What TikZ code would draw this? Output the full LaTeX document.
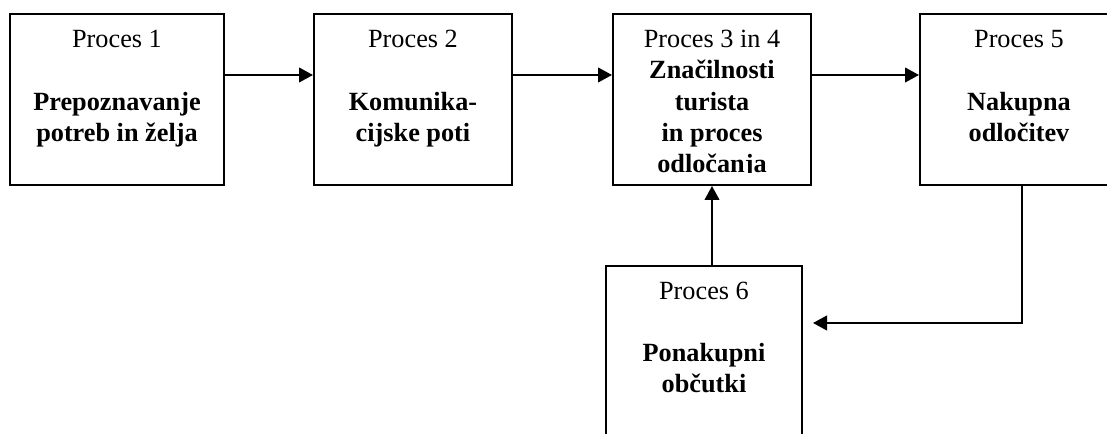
\documentclass[tikz,border=0pt]{standalone}
\usepackage{fontspec}
\setmainfont{Liberation Serif}
\usetikzlibrary{arrows.meta}
\tikzstyle{proc}=[draw,rectangle,minimum width=148.5pt,minimum height=128.25pt,inner sep=0pt]
\tikzstyle{ptitle}=[font=\fontsize{19.7}{23.3}\selectfont,anchor=base,inner sep=0pt]
\tikzstyle{pname}=[font=\fontsize{19.7}{23.3}\selectfont\bfseries,align=center,anchor=base,inner sep=0pt]% base = last line
\tikzstyle{flow}=[-{Triangle[length=10.5pt,width=11pt]}]
\begin{document}
\begin{tikzpicture}[x=0.75pt,y=0.75pt,line width=1.5pt]
	\clip (0,0) rectangle (1107,434);
%Process boxes
 %top row
	\node[proc,minimum width=160.5pt] (P1) at (117,334.5) {};
	\node[proc] (P2) at (413,334.5) {};
	\node[proc] (P34) at (712,334.5) {};
	\node[proc] (P5) at (1019,334.5) {};
 %below
	\node[proc,minimum width=147pt] (P6) at (704,82.5) {};
%Texts
	\node[ptitle] (T1) at ([yshift=-26.25pt]P1.north) {Proces 1};
	\node[pname] (N1) at ([yshift=-96.5pt]P1.north) {Prepoznavanje\\potreb in želja};
	\node[ptitle] (T2) at ([yshift=-26.25pt]P2.north) {Proces 2};
	\node[pname] (N2) at ([yshift=-96.5pt]P2.north) {Komunika-\\cijske poti};
	\node[ptitle] (T34) at ([yshift=-26.25pt]P34.north) {Proces 3 in 4};
	\begin{scope}
	\clip ([yshift=-120pt]P34.north west) rectangle (P34.north east);% last line is cut off
	\node[pname] (N34) at ([yshift=-119.4pt]P34.north) {Značilnosti\\turista\\in proces\\odločanja};
	\end{scope}
	\node[ptitle] (T5) at ([yshift=-26.25pt]P5.north) {Proces 5};
	\node[pname] (N5) at ([yshift=-96.5pt]P5.north) {Nakupna\\odločitev};
	\node[ptitle] (T6) at ([yshift=-26.25pt]P6.north) {Proces 6};
	\node[pname] (N6) at ([yshift=-96pt]P6.north) {Ponakupni\\občutki};
%Arrows
	\draw[flow] ([yshift=-46.5pt]P1.north east) -- ([yshift=-46.5pt]P2.north west);
	\draw[flow] ([yshift=-46.5pt]P2.north east) -- ([yshift=-46.5pt]P34.north west);
	\draw[flow] ([yshift=-46.5pt]P34.north east) -- ([yshift=-46.5pt]P5.north west);
 %feedback from process 5 back to 6 and up to 3 in 4
	\coordinate (F6) at ([xshift=7.5pt,yshift=-43.5pt]P6.north east);
	\draw[flow] ([xshift=2.25pt]P5.south) |- (F6);
	\draw[flow] (P6.north -| P34.south) -- (P34.south);
\end{tikzpicture}
\end{document}
